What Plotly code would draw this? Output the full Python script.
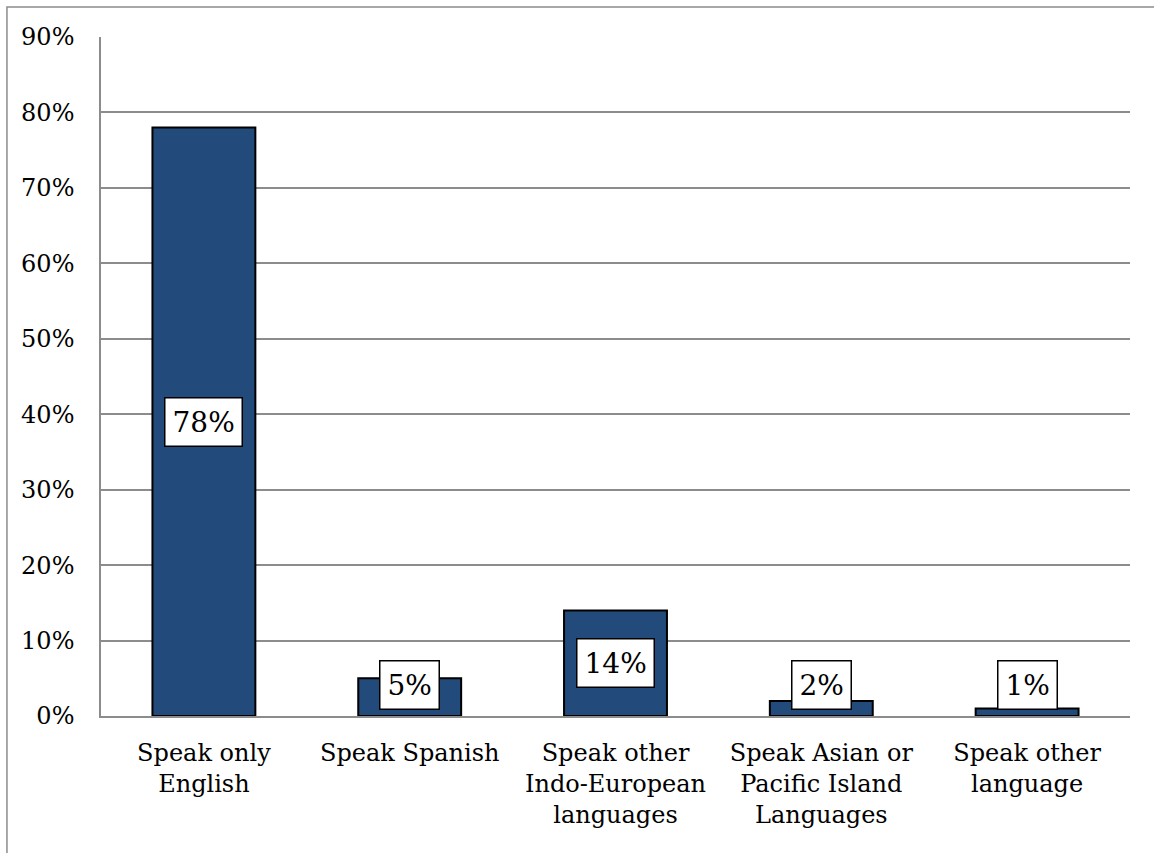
import plotly.graph_objects as go

categories = [
    "Speak only<br>English",
    "Speak Spanish",
    "Speak other<br>Indo-European<br>languages",
    "Speak Asian or<br>Pacific Island<br>Languages",
    "Speak other<br>language",
]
values = [78, 5, 14, 2, 1]
label_texts = ["78%", "5%", "14%", "2%", "1%"]
tick_vals = [0, 10, 20, 30, 40, 50, 60, 70, 80, 90]
tick_text = ["0%", "10%", "20%", "30%", "40%", "50%", "60%", "70%", "80%", "90%"]

FONT = "DejaVu Serif"
LABEL_MIN_Y = 4.1

fig = go.Figure()
fig.add_trace(go.Bar(
    x=categories, y=values,
    marker=dict(color="#224A7B", line=dict(color="black", width=2)),
    width=0.5,
    hoverinfo="skip",
))

for c, v, t in zip(categories, values, label_texts):
    fig.add_annotation(
        x=c, y=max(v / 2, LABEL_MIN_Y), text=t, showarrow=False,
        font=dict(family=FONT, size=28, color="black"),
        bgcolor="white", bordercolor="black", borderwidth=1.5, borderpad=7,
    )

# outer chart border (partially off-canvas)
fig.add_shape(type="rect", xref="paper", yref="paper",
              x0=-0.0914, x1=1.1, y0=-0.3, y1=1.0442,
              line=dict(color="#8c8c8c", width=1.5), layer="below")

fig.update_layout(
    width=1154, height=853,
    margin=dict(l=101, r=24, t=37, b=137, autoexpand=False),
    paper_bgcolor="white", plot_bgcolor="white",
    showlegend=False,
    font=dict(family=FONT, size=24, color="black"),
)
fig.update_yaxes(
    range=[0, 90], tickvals=tick_vals, ticktext=tick_text,
    showgrid=True, gridcolor="#8c8c8c", gridwidth=1.5,
    showline=True, linecolor="#8c8c8c", linewidth=1.5,
    zeroline=False, ticks="", ticklabelstandoff=20, automargin=False,
    tickfont=dict(family=FONT, size=24, color="black"),
)
fig.update_xaxes(
    showline=True, linecolor="#8c8c8c", linewidth=1.5,
    ticks="", ticklabelstandoff=14, automargin=False,
    tickfont=dict(family=FONT, size=24, color="black"),
)

fig.write_html("out.html", config={"displayModeBar": False},
               post_script="document.body.style.margin='0';")
